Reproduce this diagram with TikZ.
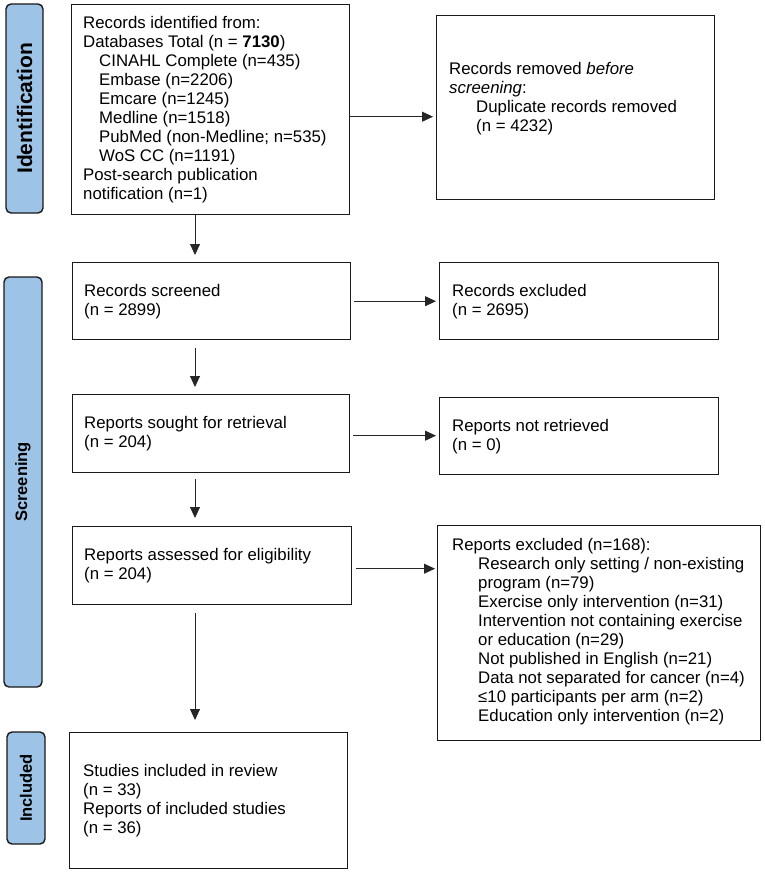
\documentclass[tikz,border=0pt]{standalone}
\usepackage{fontspec}
\setmainfont{Liberation Sans}
\usetikzlibrary{arrows.meta}
\definecolor{barblue}{HTML}{9DC3E6}
\begin{document}
\begin{tikzpicture}[x=1pt,y=-1pt,
  box/.style={draw=black!90, line width=1.4pt, anchor=north west, inner sep=0pt},
  txt/.style={anchor=west, inner sep=0pt, align=left, font=\fontsize{16.8}{19}\selectfont},
  bar/.style={draw=black!90, line width=1.4pt, fill=barblue, rounded corners=5pt, rotate=90, inner sep=0pt, font=\fontsize{16.5}{19}\selectfont\bfseries},
  arr/.style={draw=black!85, line width=0.9pt, -{Triangle[length=11pt,width=10pt]}}]
\useasboundingbox (0,0) rectangle (765,872);

% phase bars
\node[bar, minimum width=209pt, minimum height=37pt, font=\fontsize{21}{24}\selectfont\bfseries] (sid) at (24.5,108.5) {Identification};
\node[bar, minimum width=410pt, minimum height=38pt] (sscr) at (23,482) {Screening};
\node[bar, minimum width=112pt, minimum height=38pt] (sinc) at (26,788) {Included};

% boxes
\node[box, minimum width=278pt, minimum height=210pt] (b1) at (71,4) {};
\node[box, minimum width=278pt, minimum height=184pt] (r1) at (436,15) {};
\node[box, minimum width=278pt, minimum height=77pt] (b2) at (72,262) {};
\node[box, minimum width=279pt, minimum height=77pt] (r2) at (439,262) {};
\node[box, minimum width=277pt, minimum height=78pt] (b3) at (72,394) {};
\node[box, minimum width=279pt, minimum height=77pt] (r3) at (439,397) {};
\node[box, minimum width=279pt, minimum height=78pt] (b4) at (72,526) {};
\node[box, minimum width=323pt, minimum height=215pt] (r4) at (437,525) {};
\node[box, minimum width=278pt, minimum height=136pt] (b5) at (69,732) {};

% texts
\node[txt] (t1) at ([xshift=12pt]b1.west) {Records identified from:\\
Databases Total (n = \textbf{7130})\\
\hspace*{16pt}CINAHL Complete (n=435)\\
\hspace*{16pt}Embase (n=2206)\\
\hspace*{16pt}Emcare (n=1245)\\
\hspace*{16pt}Medline (n=1518)\\
\hspace*{16pt}PubMed (non-Medline; n=535)\\
\hspace*{16pt}WoS CC (n=1191)\\
Post-search publication\\
notification (n=1)};
\node[txt] (tr1) at ([xshift=13pt,yshift=9pt]r1.west) {Records removed \textit{before}\\
\textit{screening}:\\
\hspace*{27pt}Duplicate records removed\\
\hspace*{27pt}(n = 4232)};
\node[txt] (t2) at ([xshift=12pt]b2.west) {Records screened\\(n = 2899)};
\node[txt] (tr2) at ([xshift=13pt]r2.west) {Records excluded\\(n = 2695)};
\node[txt] (t3) at ([xshift=12pt]b3.west) {Reports sought for retrieval\\(n = 204)};
\node[txt] (tr3) at ([xshift=13pt]r3.west) {Reports not retrieved\\(n = 0)};
\node[txt] (t4) at ([xshift=12pt]b4.west) {Reports assessed for eligibility\\(n = 204)};
\node[txt] (tr4) at ([xshift=15pt,yshift=2pt]r4.west) {Reports excluded (n=168):\\
\hspace*{26pt}Research only setting / non-existing\\
\hspace*{26pt}program (n=79)\\
\hspace*{26pt}Exercise only intervention (n=31)\\
\hspace*{26pt}Intervention not containing exercise\\
\hspace*{26pt}or education (n=29)\\
\hspace*{26pt}Not published in English (n=21)\\
\hspace*{26pt}Data not separated for cancer (n=4)\\
\hspace*{26pt}≤10 participants per arm (n=2)\\
\hspace*{26pt}Education only intervention (n=2)};
\node[txt] (t5) at ([xshift=14pt]b5.west) {Studies included in review\\
(n = 33)\\
Reports of included studies\\
(n = 36)};

% connectors
\coordinate (ax) at (195,0);
\draw[arr, shorten >=3pt] ([yshift=-7pt]b1.east) -- ([yshift=-7pt]b1.east -| r1.west);
\draw[arr, shorten <=3pt, shorten >=3pt] (b2.east) -- (b2.east -| r2.west);
\draw[arr, shorten <=3pt, shorten >=3pt] ([yshift=-2pt]b3.east) -- ([yshift=-2pt]b3.east -| r3.west);
\draw[arr, shorten <=4pt, shorten >=2pt] ([yshift=-3pt]b4.east) -- ([yshift=-3pt]b4.east -| r4.west);
\draw[arr, shorten >=7pt] (b1.south -| ax) -- (b2.north -| ax);
\draw[arr, shorten <=8pt, shorten >=7pt] (b2.south -| ax) -- (b3.north -| ax);
\draw[arr, shorten <=6pt, shorten >=8pt] (b3.south -| ax) -- (b4.north -| ax);
\draw[arr, shorten <=8pt, shorten >=12pt] (b4.south -| ax) -- (b5.north -| ax);
\end{tikzpicture}
\end{document}
